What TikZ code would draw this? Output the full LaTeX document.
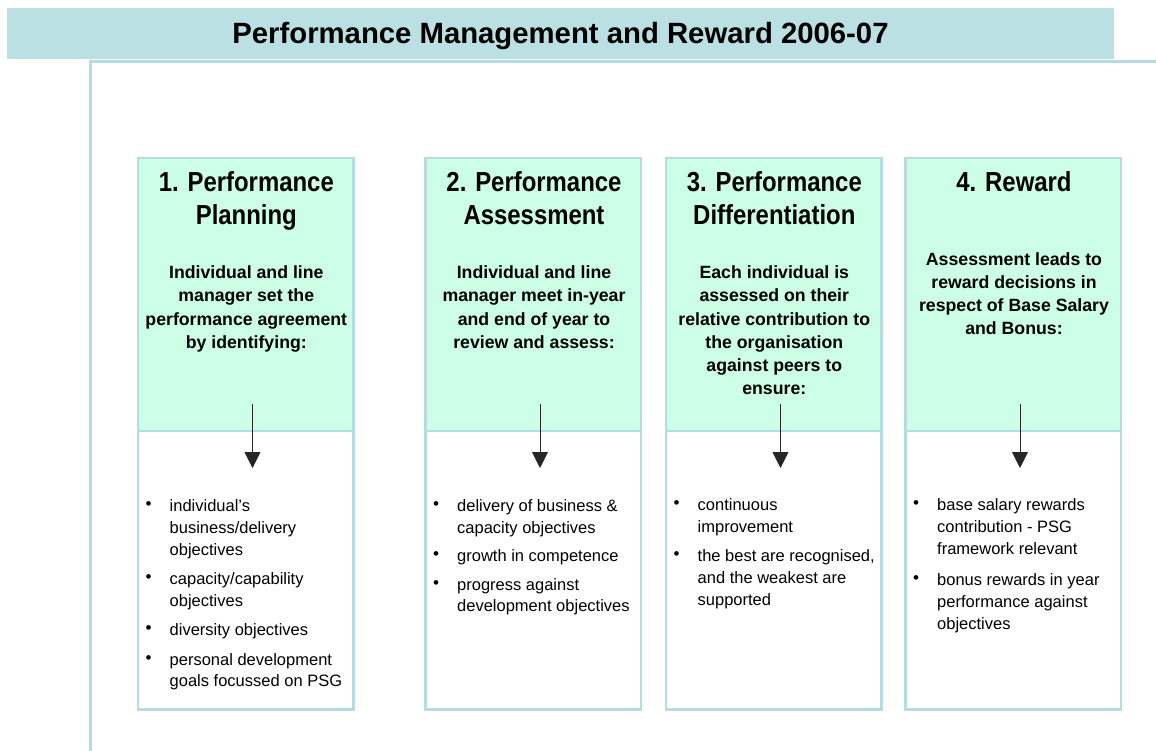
\documentclass[tikz,border=0pt]{standalone}
\usepackage{fontspec}
\setmainfont{Liberation Sans}
\newfontfamily\narrowfont[FakeStretch=0.87]{Liberation Sans}
\usetikzlibrary{arrows.meta}
\definecolor{barblue}{HTML}{BBE0E3}
\definecolor{lineblue}{HTML}{B5DCE2}
\definecolor{mint}{HTML}{CCFFE6}
\begin{document}
\begin{tikzpicture}[x=1pt,y=-1pt,
		titlebar/.style={fill=barblue,draw=none,minimum width=1107pt,minimum height=51pt,anchor=north west,inner sep=0},
		headbox/.style={fill=mint,draw=lineblue,line width=2.5pt,minimum width=215.5pt,minimum height=273pt,anchor=north west,inner sep=0,outer sep=0},
		listbox/.style={fill=white,draw=lineblue,line width=2.5pt,minimum width=215.5pt,minimum height=278.5pt,anchor=north west,inner sep=0,outer sep=0},
		heading/.style={anchor=north,align=center,inner sep=0,font=\narrowfont\bfseries\fontsize{27.5}{33}\selectfont},
		body/.style={anchor=north,align=center,inner sep=0,font=\bfseries\fontsize{17.7}{23.3}\selectfont},
		item/.style={anchor=north west,align=left,inner sep=0,font=\fontsize{16.5}{21.7}\selectfont},
		dot/.style={anchor=base,inner sep=0,font=\fontsize{17}{18}\selectfont},
		flow/.style={-{Triangle[width=16pt,length=16pt]},line width=0.9pt,black!85}]
		\useasboundingbox (0,0) rectangle (1156,751);
		%%%% Titel
		\node[titlebar] (bar) at (7,8) {};
		\node[anchor=base,inner sep=0,font=\bfseries\fontsize{29.3}{34}\selectfont] (title) at (560.5,43.3) {Performance Management and Reward 2006-07};
		% Rahmen
		\draw[lineblue,line width=2.5pt] (1156,61.3) -| (90.7,751);
		%%%% Kaesten mit Pfeil
		\foreach \n/\l in {1/138,2/425.5,3/666,4/905.5} {
			\node[headbox] (h\n) at (\l,158) {};
			\node[listbox] (l\n) at (\l,431) {};
			\coordinate (s\n) at (\l+114.5,403.5);
			\coordinate (e\n) at (\l+114.5,468);
			\draw[flow] (s\n) -- (e\n);
		}
		%%%% Ueberschriften
		\node[heading] (t1) at (246.3,171.5) {1. Performance\\Planning};
		\node[heading] (t2) at (534,171.5) {2. Performance\\Assessment};
		\node[heading] (t3) at (774.3,171.5) {3. Performance\\Differentiation};
		\node[heading] (t4) at (1014,171.5) {4. Reward};
		% Beschreibung
		\node[body] (d1) at (246.3,265.4) {Individual and line\\manager set the\\performance agreement\\by identifying:};
		\node[body] (d2) at (534,265.4) {Individual and line\\manager meet in-year\\and end of year to\\review and assess:};
		\node[body] (d3) at (774.3,265.4) {Each individual is\\assessed on their\\relative contribution to\\the organisation\\against peers to\\ensure:};
		\node[body] (d4) at (1014,252) {Assessment leads to\\reward decisions in\\respect of Base Salary\\and Bonus:};
		%%%% Aufzaehlungen
		\foreach \y/\t [count=\i] in {511.7/{individual’s\\business/delivery\\objectives},584.5/{capacity/capability\\objectives},635/{diversity objectives},665/{personal development\\goals focussed on PSG}} {
			\node[dot] (p1\i) at (148.5,\y-2) {•};
			\node[item] (i1\i) at (169.5,\y-12) {\t};
		}
		\foreach \y/\t [count=\i] in {511.7/{delivery of business \&\\capacity objectives},561.7/{growth in competence},590/{progress against\\development objectives}} {
			\node[dot] (p2\i) at (436,\y-2) {•};
			\node[item] (i2\i) at (457,\y-12) {\t};
		}
		\foreach \y/\t [count=\i] in {510.5/{continuous\\improvement},561.5/{the best are recognised,\\and the weakest are\\supported}} {
			\node[dot] (p3\i) at (676.5,\y-2) {•};
			\node[item] (i3\i) at (697.5,\y-12) {\t};
		}
		\foreach \y/\t [count=\i] in {510.7/{base salary rewards\\contribution - PSG\\framework relevant},585.7/{bonus rewards in year\\performance against\\objectives}} {
			\node[dot] (p4\i) at (916,\y-2) {•};
			\node[item] (i4\i) at (937,\y-12) {\t};
		}
	\end{tikzpicture}
\end{document}
